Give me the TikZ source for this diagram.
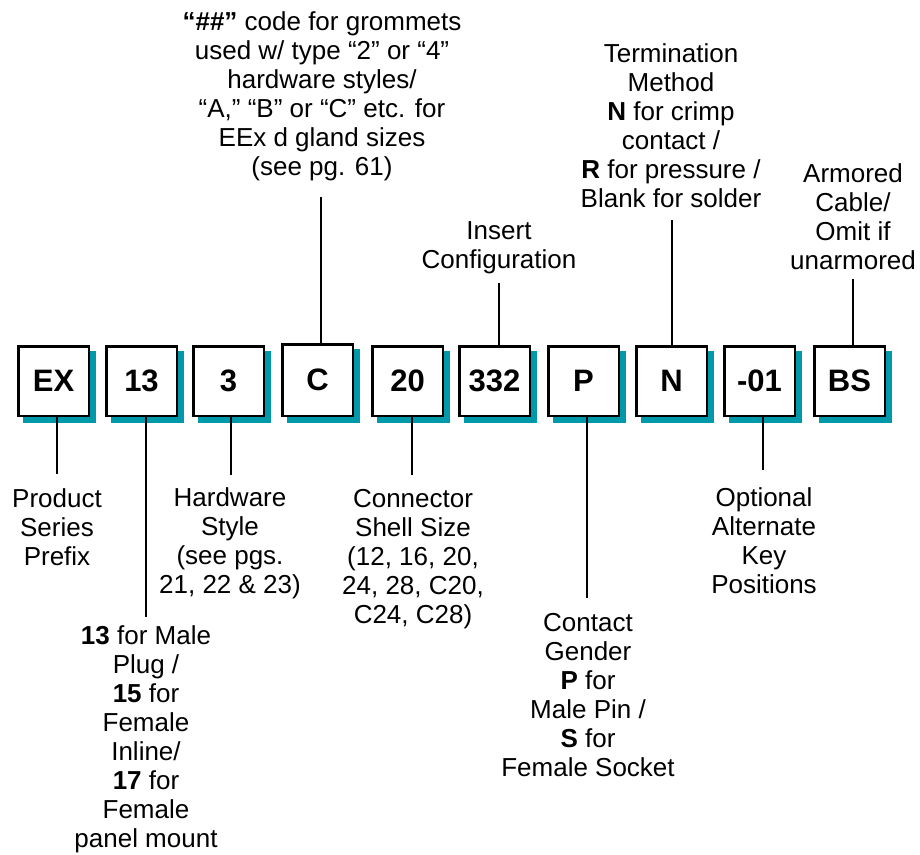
\documentclass[tikz,border=0pt]{standalone}
\usepackage{fontspec}
\setmainfont{Liberation Sans}
\usetikzlibrary{calc,backgrounds}
\definecolor{shadowc}{RGB}{0,153,170}
\begin{document}
\begin{tikzpicture}[x=1pt,y=-1pt,
  box/.style={draw=black, line width=2.5pt, fill=white, minimum width=70.5pt,
    minimum height=69.5pt, inner sep=0pt, font=\fontsize{31}{31}\selectfont\bfseries},
  lab/.style={align=center, inner sep=0pt, font=\fontsize{26}{29}\selectfont, anchor=base},
  conn/.style={line width=2pt}]
\useasboundingbox (0,0) rectangle (920,854);

% code boxes
\node[box] (ex)   at (53.5,381)  {EX};
\node[box] (n13)  at (141.5,381) {13};
\node[box] (hw)   at (228.5,381) {3};
\node[box, minimum height=71.5pt] (gc) at (317.5,380) {C};
\node[box] (sz)   at (407.5,381) {20};
\node[box] (ins)  at (494.5,381) {332};
\node[box] (gen)  at (583.5,381) {P};
\node[box] (term) at (671.5,381) {N};
\node[box] (key)  at (759.5,381) {-01};
\node[box] (arm)  at (849.5,381) {BS};

\begin{scope}[on background layer]
  \foreach \n in {ex,n13,hw,gc,sz,ins,gen,term,key,arm}
    \fill[shadowc] ($(\n.south west)+(6,6)$) rectangle ($(\n.north east)+(6,6)$);
\end{scope}

% labels above
\node[lab] (lgc) at (322,175) {\textbf{“\#\#”} code for grommets\\used w/ type “2” or “4”\\hardware styles/\\“A,” “B” or “C” etc. for\\EEx d gland sizes\\(see pg. 61)};
\node[lab] (lins) at (499,268) {Insert\\Configuration};
\node[lab] (lterm) at (671,207) {Termination\\Method\\\textbf{N} for crimp\\contact /\\\textbf{R} for pressure /\\Blank for solder};
\node[lab] (larm) at (853,269) {Armored\\Cable/\\Omit if\\unarmored};

% labels below
\node[lab] (lex) at (57,565) {Product\\Series\\Prefix};
\node[lab] (ln13) at (146,847) {\textbf{13} for Male\\Plug /\\\textbf{15} for\\Female\\Inline/\\\textbf{17} for\\Female\\panel mount};
\node[lab] (lhw) at (230,593) {Hardware\\Style\\(see pgs.\\21, 22 \& 23)};
\node[lab] (lsz) at (413,623) {Connector\\Shell Size\\(12, 16, 20,\\24, 28, C20,\\C24, C28)};
\node[lab] (lgen) at (588,776) {Contact\\Gender\\\textbf{P} for\\Male Pin /\\\textbf{S} for\\Female Socket};
\node[lab] (lkey) at (764,593) {Optional\\Alternate\\Key\\Positions};

% connector end points
\coordinate (cgc) at (321,197);
\coordinate (cins) at (499,283);
\coordinate (cterm) at (672,220);
\coordinate (carm) at (853,279);
\coordinate (cex) at (57,474);
\coordinate (cn13) at (146,617);
\coordinate (chw) at (231,475);
\coordinate (csz) at (412,475);
\coordinate (cgen) at (587,598);
\coordinate (ckey) at (763,470);

\draw[conn] (cgc) -- (cgc |- gc.north);
\draw[conn] (cins) -- (cins |- ins.north);
\draw[conn] (cterm) -- (cterm |- term.north);
\draw[conn] (carm) -- (carm |- arm.north);
\draw[conn] (ex.south -| cex) -- (cex);
\draw[conn] (n13.south -| cn13) -- (cn13);
\draw[conn] (hw.south -| chw) -- (chw);
\draw[conn] (sz.south -| csz) -- (csz);
\draw[conn] (gen.south -| cgen) -- (cgen);
\draw[conn] (key.south -| ckey) -- (ckey);
\end{tikzpicture}
\end{document}
